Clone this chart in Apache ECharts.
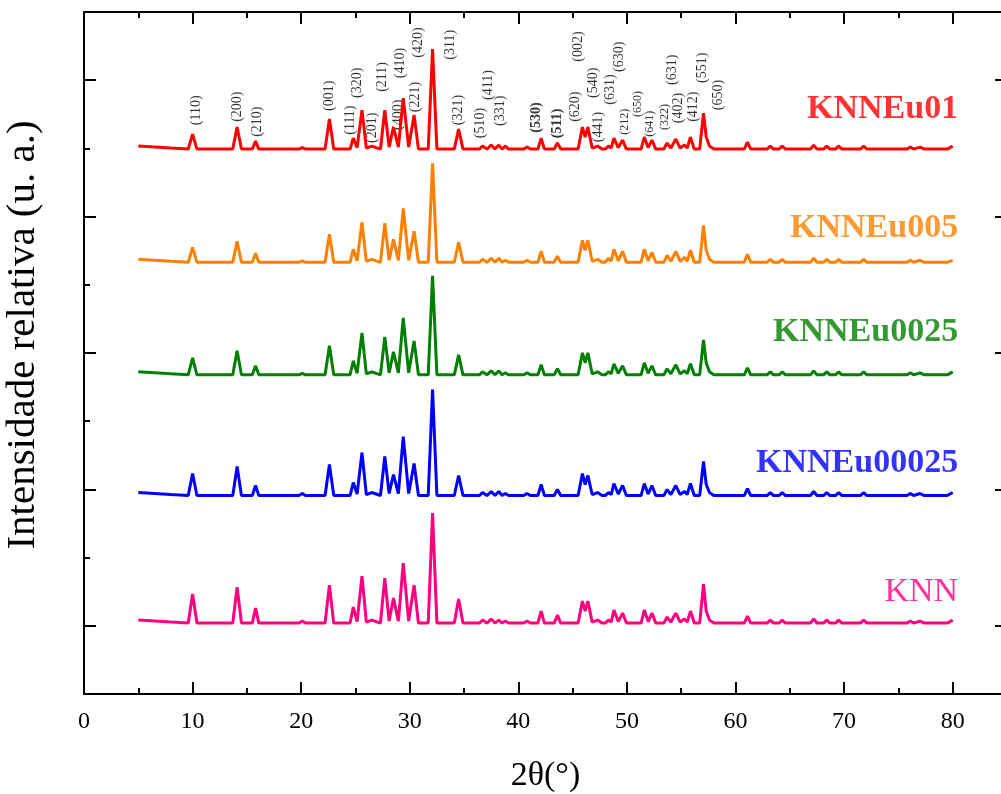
<!DOCTYPE html>
<html>
<head>
<meta charset="utf-8">
<script src="https://cdn.jsdelivr.net/npm/echarts@6/dist/echarts.min.js"></script>
<style>html,body{margin:0;padding:0;background:#fff}#c{width:1001px;height:794px;background:#fff}</style>
</head>
<body>
<div id="c"></div>
<script>
// 2θ sample positions (degrees)
const theta = [5.0,6.5,8.0,9.6,10.0,10.4,13.7,14.1,14.5,15.5,15.8,16.1,19.8,20.1,20.4,22.2,22.6,23.0,
24.5,24.8,25.15,25.6,26.0,26.5,27.3,27.7,28.1,28.5,28.95,29.4,29.9,30.4,30.8,31.7,32.1,32.5,34.1,34.5,34.9,
36.4,36.7,37.1,37.5,37.85,38.2,38.5,38.8,39.1,40.5,40.8,41.1,41.8,42.1,42.4,43.3,43.6,43.9,
45.5,45.9,46.15,46.4,46.8,47.3,47.7,48.0,48.3,48.55,48.8,49.2,49.6,49.95,51.3,51.6,51.95,52.3,52.65,
53.4,53.7,54.05,54.5,54.9,55.3,55.55,55.85,56.2,56.7,57.05,57.3,57.6,58.0,60.8,61.1,61.4,
62.9,63.2,63.5,64.0,64.3,64.6,66.9,67.2,67.5,68.1,68.4,68.7,69.2,69.5,69.8,71.5,71.8,72.1,
75.8,76.1,76.4,77.0,77.4,79.5,80.0];

// intensities (a.u.) above each pattern's baseline, aligned with theta
const KNNEu01 = [3,2,1,0,15,0,0,22,0,0,8,0,0,1.5,0,0,30,0,
0,11,1.5,39,1,3,0,39,2,22,2,51,2,34,0,0,100,0,0,20,0,
0,3,0,4,0,4,0,3,0,0,2,0,0,11,0,0,6,0,
0,22,12,22,1,3,0,0,3,1,11,1.5,9,0,0,12,1.5,9,0,
0,6,1,10,1,4,1,12,0,0,36,12,3,0,0,7,0,
0,3,0,0,3,0,0,4,0,0,3,0,0,3,0,0,3,0,
0,2,0,2,0,0,3];
const KNNEu005 = [3,2,1,0,15,0,0,21,0,0,9,0,0,1.5,0,0,28,0,
0,13,1.5,40,1,3,0,39,2,23,2,54,2,31,0,0,99,0,0,20,0,
0,3,0,4,0,4,0,2,0,0,2,0,0,11,0,0,6,0,
0,22,12,22,1,3,0,0,4,1,13,1.5,11,0,0,13,1.5,10,0,
0,7,1,11,1,5,1,12,0,0,37,12,3,0,0,8,0,
0,3,0,0,3,0,0,4,0,0,3,0,0,3,0,0,3,0,
0,2,0,2,0,0,2];
const KNNEu0025 = [3,2,1,0,17,0,0,24,0,0,9,0,0,1.5,0,0,29,0,
0,14,1.5,42,1,3,0,38,2,23,2,57,2,34,0,0,99,0,0,20,0,
0,3,0,4,0,4,0,2,0,0,2,0,0,10,0,0,6,0,
0,22,12,22,1,3,0,0,3,1,11,1.5,9,0,0,12,1.5,9,0,
0,6,1,10,1,4,1,11,0,0,35,12,3,0,0,7,0,
0,3,0,0,3,0,0,4,0,0,3,0,0,3,0,0,3,0,
0,2,0,2,0,0,3];
const KNNEu00025 = [3,2,1,0,22,0,0,29,0,0,10,0,0,2,0,0,31,0,
0,13,1.5,43,1,3,0,39,2,21,2,59,2,32,0,0,106,0,0,20,0,
0,3,0,4,0,4,0,2,0,0,2,0,0,11,0,0,6,0,
0,22,11,20,1,3,0,0,3,1,12,1.5,10,0,0,12,1.5,10,0,
0,6,1,10,1,4,1,12,0,0,34,11,3,0,0,7,0,
0,3,0,0,3,0,0,4,0,0,3,0,0,3,0,0,3,0,
0,2,0,2,0,0,3];
const KNN = [3,2,1,0,29,0,0,36,0,0,15,0,0,2,0,0,38,0,
0,16,1.5,47,1,3,0,45,2,25,2,60,2,38,0,0,110,0,0,24,0,
0,3,0,4,0,3,0,2,0,0,2,0,0,12,0,0,8,0,
0,22,12,22,1,3,0,0,3,1,13,1.5,10,0,0,13,1.5,10,0,
0,6,1,10,1,4,1,12,0,0,39,12,3,0,0,7,0,
0,3,0,0,3,0,0,4,0,0,3,0,0,3,0,0,3,0,
0,2,0,2,0,0,3];

const sampleNames = ['KNNEu01','KNNEu005','KNNEu0025','KNNEu00025','KNN'];
const sampleData = [KNNEu01, KNNEu005, KNNEu0025, KNNEu00025, KNN];
const sampleOffsets = [7.99, 6.33, 4.68, 2.91, 1.04];    // vertical stacking offsets (axis units)
const sampleColors = ['#ff0000','#ff8000','#008000','#0000ff','#ff0080'];
const sampleLabelY = [8.58, 6.83, 5.31, 3.39, 1.50];     // name label heights (axis units)
const intensityScale = 10/682;

// axis ticks
const xMajor = [0,10,20,30,40,50,60,70,80];
const xMinor = [5,15,25,35,45,55,65,75];
const yMajor = [1,3,5,7,9];
const yMinor = [2,4,6,8];

// Miller index annotations: [label, 2θ, height (axis units), small?, bold?]
const hkl = [
 ['(110)',10.32,8.34],['(200)',14.10,8.39],['(210)',15.94,8.17],['(001)',22.58,8.55],
 ['(111)',24.52,8.20],['(320)',25.16,8.74],['(201)',26.54,8.08],['(211)',27.47,8.83],
 ['(400)',28.94,8.27],['(410)',29.12,9.03],['(221)',30.51,8.53],['(420)',30.78,9.33],
 ['(311)',33.73,9.30],['(321)',34.47,8.34],['(510)',36.50,8.15],['(411)',37.24,8.71],
 ['(331)',38.34,8.33],['(530)',41.66,8.23,0,1],['(511)',43.59,8.15,0,1],['(620)',45.25,8.39],
 ['(002)',45.53,9.27],['(540)',46.91,8.74],['(441)',47.37,8.09],['(631)',48.48,8.64],
 ['(630)',49.31,9.12],['(212)',49.77,8.20,1],['(650)',50.97,8.46,1],['(641)',52.07,8.17,1],
 ['(322)',53.46,8.27,1],['(631)',54.19,8.93],['(402)',54.75,8.37],['(412)',56.13,8.39],
 ['(551)',56.96,8.96],['(650)',58.43,8.56]
];

const FONT = "'Liberation Serif','Times New Roman',serif";
const chart = echarts.init(document.getElementById('c'));

const series = sampleNames.map((n, k) => ({
  name: n, type: 'line', xAxisIndex: 0, yAxisIndex: 0,
  showSymbol: false, symbol: 'none', smooth: false,
  lineStyle: {color: sampleColors[k], width: 3},
  itemStyle: {color: sampleColors[k]},
  data: theta.map((t, i) => [t, sampleOffsets[k] + sampleData[k][i] * intensityScale])
}));

const plainLabel = {textBorderWidth: 0, textBorderColor: 'transparent', textShadowBlur: 0};

series.push({
  type: 'scatter', xAxisIndex: 0, yAxisIndex: 0, silent: true,
  symbolSize: 1, itemStyle: {color: 'rgba(0,0,0,0)'},
  data: hkl.map(h => ({
    name: h[0], value: [h[1], h[2]],
    label: Object.assign({show: true, formatter: h[0], rotate: 90, position: 'inside', align: 'left', verticalAlign: 'middle',
      fontFamily: FONT, fontSize: h[3] ? 12 : 14, fontWeight: h[4] ? 'bold' : 'normal', color: '#000'}, plainLabel)
  }))
});

series.push({
  type: 'scatter', xAxisIndex: 0, yAxisIndex: 0, silent: true,
  symbolSize: 1, itemStyle: {color: 'rgba(0,0,0,0)'},
  data: sampleNames.map((n, k) => ({
    name: n, value: [80.5, sampleLabelY[k]],
    label: Object.assign({show: true, formatter: n, position: 'inside', align: 'right', verticalAlign: 'middle',
      fontFamily: FONT, fontSize: 34, fontWeight: n === 'KNN' ? 'normal' : 'bold', color: sampleColors[k]}, plainLabel)
  }))
});

function xAx(pos, ticks, len, main) {
  return {
    type: 'value', min: 0, max: 85, position: pos,
    axisLine: {show: !!main, onZero: false, lineStyle: {color: '#000', width: 2}},
    axisTick: {show: true, inside: true, length: len, customValues: ticks, lineStyle: {color: '#000', width: 2}},
    axisLabel: {show: !!(main && pos === 'bottom'), customValues: xMajor, margin: 16, fontSize: 24, fontFamily: FONT, color: '#000'},
    splitLine: {show: false},
    name: (main && pos === 'bottom') ? '2θ(°)' : '', nameLocation: 'middle', nameGap: 65,
    nameTextStyle: {fontSize: 34, fontFamily: FONT, color: '#000'}
  };
}
function yAx(pos, ticks, len, main) {
  return {
    type: 'value', min: 0, max: 10, position: pos,
    axisLine: {show: !!main && pos === 'left', onZero: false, lineStyle: {color: '#000', width: 2}},
    axisTick: {show: true, inside: true, length: len, customValues: ticks, lineStyle: {color: '#000', width: 2}},
    axisLabel: {show: false},
    splitLine: {show: false},
    name: (main && pos === 'left') ? 'Intensidade relativa (u. a.)' : '', nameLocation: 'middle', nameGap: 40,
    nameTextStyle: {fontSize: 41, fontFamily: FONT, color: '#000', padding: [0, 0, 0, 36]}
  };
}

chart.setOption({
  animation: false,
  grid: {left: 84, top: 12, width: 923, height: 682, outerBoundsMode: 'none'},
  xAxis: [xAx('bottom', xMajor, 12, true), xAx('bottom', xMinor, 6, false), xAx('top', xMajor, 12, true), xAx('top', xMinor, 6, false)],
  yAxis: [yAx('left', yMajor, 12, true), yAx('left', yMinor, 6, false), yAx('right', yMajor, 12, true), yAx('right', yMinor, 6, false)],
  series
});
</script>
</body>
</html>
